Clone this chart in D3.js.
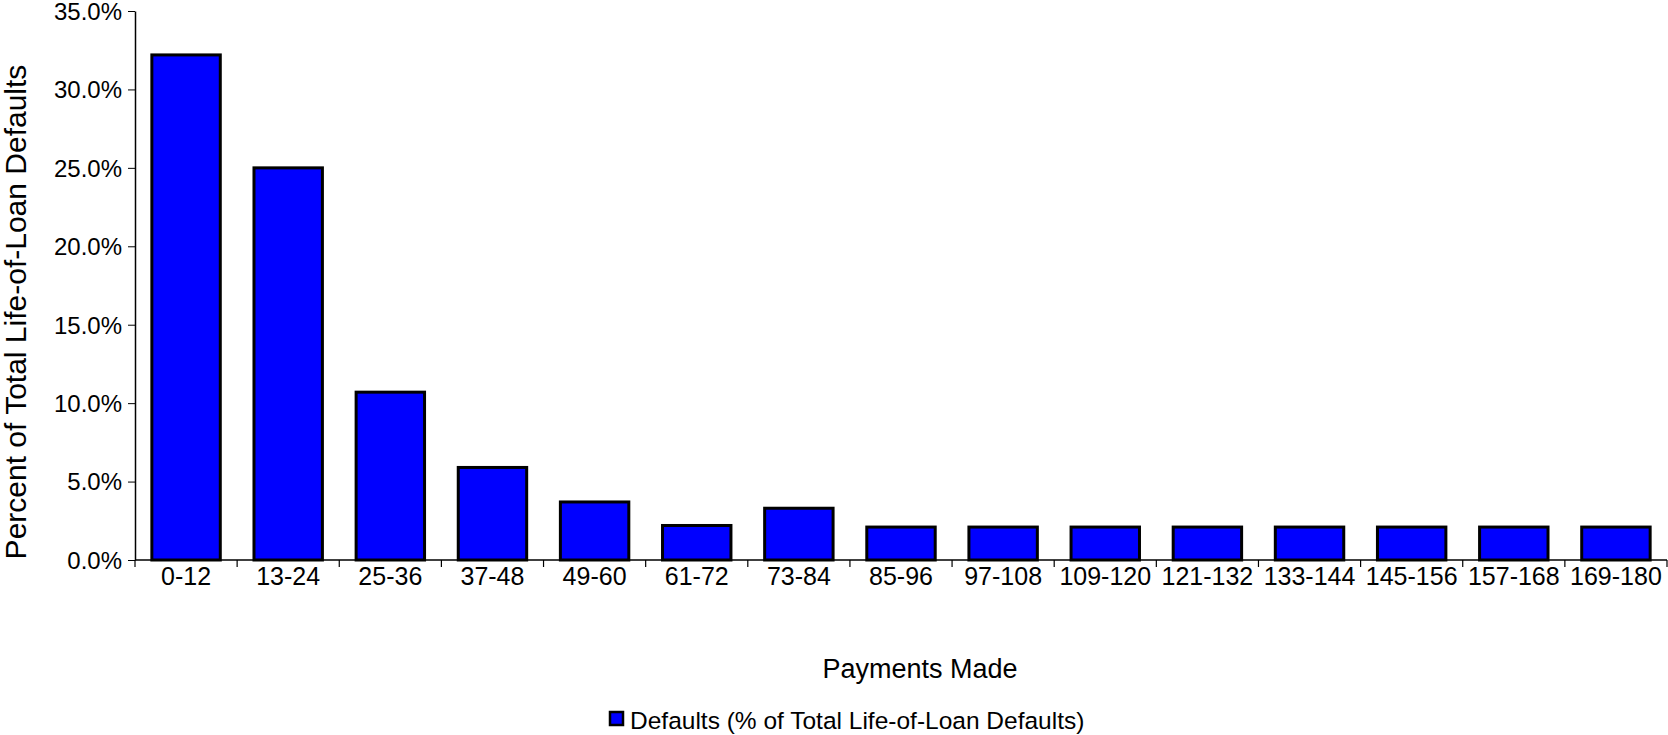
<!DOCTYPE html><html><head><meta charset="utf-8"><script src="https://cdn.jsdelivr.net/npm/d3@7"></script>
<style>body{margin:0;background:#fff}text{font-family:"Liberation Sans",Arial,sans-serif;fill:#000}</style></head><body><svg width="1668" height="735"></svg>
<script>
const categories=["0-12","13-24","25-36","37-48","49-60","61-72","73-84","85-96","97-108","109-120","121-132","133-144","145-156","157-168","169-180"];
const values=[32.2,25.0,10.7,5.9,3.7,2.2,3.3,2.1,2.1,2.1,2.1,2.1,2.1,2.1,2.1];
const yTicks=[0,5,10,15,20,25,30,35];
const svg=d3.select("svg");
const L=135,R=1667,T=11,B=560;
const x=d3.scaleBand().domain(categories).range([L,R]).paddingInner(0.33).paddingOuter(0.165);
const y=d3.scaleLinear().domain([0,35]).range([B,T]);
svg.selectAll("rect.bar").data(values).join("rect").attr("class","bar")
 .attr("x",(d,i)=>x(categories[i])).attr("width",x.bandwidth())
 .attr("y",d=>y(d)).attr("height",d=>B-y(d))
 .attr("fill","#0000ff").attr("stroke","#000").attr("stroke-width",3);
const ya=svg.append("g").attr("transform",`translate(${L},0)`).call(d3.axisLeft(y).tickValues(yTicks).tickFormat(d=>d.toFixed(1)+"%").tickSize(7).tickSizeOuter(0));
ya.selectAll("text").style("font-size","24px").attr("x",-13).attr("dy","0.35em");
ya.select(".domain").attr("stroke","#000").attr("stroke-width",1.5);
const xa=svg.append("g");
xa.append("line").attr("x1",L).attr("x2",R).attr("y1",B).attr("y2",B).attr("stroke","#000").attr("stroke-width",1.5);
const step=x.step();
d3.range(categories.length+1).forEach(i=>{const xx=L+i*step;xa.append("line").attr("x1",xx).attr("x2",xx).attr("y1",B).attr("y2",B+7).attr("stroke","#000").attr("stroke-width",1.2);});
xa.selectAll("text.cl").data(categories).join("text").attr("class","cl").attr("x",d=>x(d)+x.bandwidth()/2).attr("y",585).attr("text-anchor","middle").style("font-size","25px").text(d=>d);
svg.append("text").attr("x",920).attr("y",678).attr("text-anchor","middle").style("font-size","27px").text("Payments Made");
svg.append("text").attr("transform","translate(26,312) rotate(-90)").attr("text-anchor","middle").style("font-size","30px").text("Percent of Total Life-of-Loan Defaults");
svg.append("rect").attr("x",610).attr("y",712).attr("width",13).attr("height",13).attr("fill","#0000ff").attr("stroke","#000").attr("stroke-width",2.5);
svg.append("text").attr("x",630).attr("y",729).style("font-size","24.5px").text("Defaults (% of Total Life-of-Loan Defaults)");
</script></body></html>
